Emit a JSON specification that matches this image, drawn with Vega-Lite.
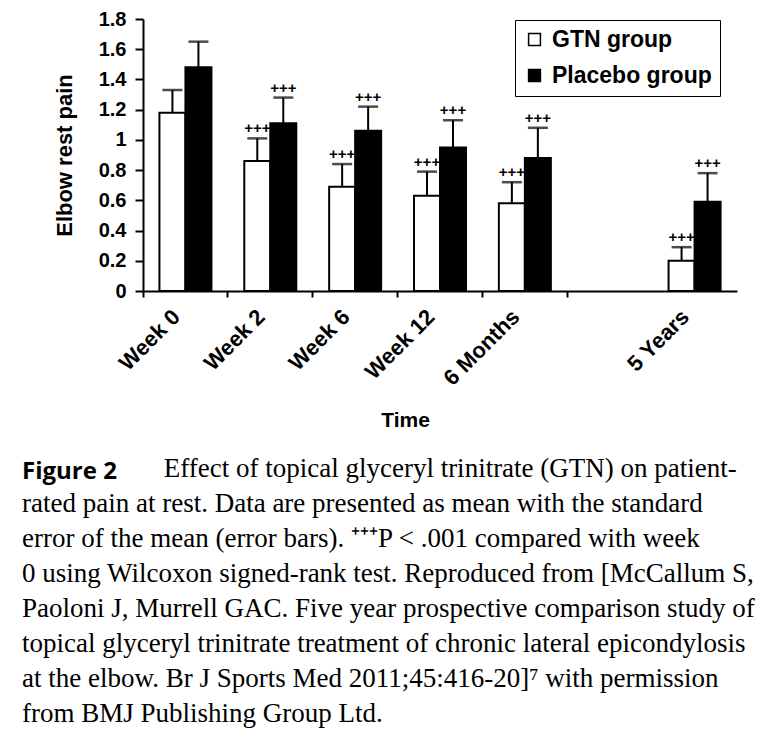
{
  "$schema": "https://vega.github.io/schema/vega-lite/v6.json",
  "width": 594,
  "height": 272,
  "autosize": {"type": "none"},
  "padding": {"left": 143, "top": 19, "right": 43, "bottom": 462},
  "background": "white",
  "title": {
    "text": "Figure 2",
    "subtitle": [
      "\u200b\u00a0\u00a0\u00a0\u00a0\u00a0\u00a0\u00a0\u00a0\u00a0\u00a0\u00a0\u00a0\u00a0\u00a0\u00a0\u00a0\u00a0\u00a0\u00a0\u00a0\u00a0Effect of topical glyceryl trinitrate (GTN) on patient-",
      "rated pain at rest. Data are presented as mean with the standard",
      "error of the mean (error bars). \u207a\u207a\u207aP < .001 compared with week",
      "0 using Wilcoxon signed-rank test. Reproduced from [McCallum S,",
      "Paoloni J, Murrell GAC. Five year prospective comparison study of",
      "topical glyceryl trinitrate treatment of chronic lateral epicondylosis",
      "at the elbow. Br J Sports Med 2011;45:416-20]\u2077 with permission",
      "from BMJ Publishing Group Ltd."
    ],
    "orient": "bottom",
    "anchor": "start",
    "frame": "group",
    "dx": -121,
    "offset": 30,
    "font": "Open Sans",
    "fontSize": 24,
    "fontWeight": "bold",
    "color": "black",
    "subtitleFont": "Liberation Serif",
    "subtitleFontSize": 27,
    "subtitleColor": "black",
    "subtitleLineHeight": 35,
    "subtitlePadding": -28
  },
  "data": {
    "values": [
      {"Time": "Week 0", "Group": "GTN group", "Mean": 1.18, "Upper": 1.33, "Sig": ""},
      {"Time": "Week 0", "Group": "Placebo group", "Mean": 1.48, "Upper": 1.65, "Sig": ""},
      {"Time": "Week 2", "Group": "GTN group", "Mean": 0.86, "Upper": 1.01, "Sig": "+++"},
      {"Time": "Week 2", "Group": "Placebo group", "Mean": 1.11, "Upper": 1.28, "Sig": "+++"},
      {"Time": "Week 6", "Group": "GTN group", "Mean": 0.69, "Upper": 0.84, "Sig": "+++"},
      {"Time": "Week 6", "Group": "Placebo group", "Mean": 1.06, "Upper": 1.22, "Sig": "+++"},
      {"Time": "Week 12", "Group": "GTN group", "Mean": 0.63, "Upper": 0.79, "Sig": "+++"},
      {"Time": "Week 12", "Group": "Placebo group", "Mean": 0.95, "Upper": 1.13, "Sig": "+++"},
      {"Time": "6 Months", "Group": "GTN group", "Mean": 0.58, "Upper": 0.72, "Sig": "+++"},
      {"Time": "6 Months", "Group": "Placebo group", "Mean": 0.88, "Upper": 1.08, "Sig": "+++"},
      {"Time": "5 Years", "Group": "GTN group", "Mean": 0.2, "Upper": 0.29, "Sig": "+++"},
      {"Time": "5 Years", "Group": "Placebo group", "Mean": 0.59, "Upper": 0.78, "Sig": "+++"}
    ]
  },
  "encoding": {
    "x": {
      "field": "Time",
      "type": "nominal",
      "sort": null,
      "scale": {
        "domain": ["Week 0", "Week 2", "Week 6", "Week 12", "6 Months", " ", "5 Years"],
        "paddingInner": 0,
        "paddingOuter": 0
      },
      "axis": {
        "title": "Time",
        "titleFont": "Liberation Sans",
        "titleFontSize": 21,
        "titleFontWeight": "bold",
        "titleColor": "black",
        "titleX": 262,
        "titleY": 118,
        "labelFont": "Liberation Sans",
        "labelFontSize": 22,
        "labelFontWeight": "bold",
        "labelColor": "black",
        "labelAngle": -45,
        "labelAlign": "right",
        "labelBaseline": "middle",
        "labelOffset": -9,
        "labelPadding": 16,
        "bandPosition": 0,
        "domainColor": "black",
        "domainWidth": 2,
        "tickColor": {"condition": {"test": "datum.value === '5 Years'", "value": "transparent"}, "value": "black"},
        "tickWidth": 2,
        "tickSize": 6,
        "grid": false
      }
    },
    "xOffset": {
      "field": "Group",
      "type": "nominal",
      "scale": {"paddingOuter": 0.632, "paddingInner": 0}
    },
    "y": {
      "field": "Mean",
      "type": "quantitative",
      "scale": {"domain": [0, 1.8], "nice": false},
      "axis": {
        "title": "Elbow rest pain",
        "titleFont": "Liberation Sans",
        "titleFontSize": 22,
        "titleFontWeight": "bold",
        "titleColor": "black",
        "titlePadding": 22,
        "values": [0, 0.2, 0.4, 0.6, 0.8, 1, 1.2, 1.4, 1.6, 1.8],
        "format": ".1~f",
        "labelFont": "Liberation Sans",
        "labelFontSize": 20,
        "labelFontWeight": "bold",
        "labelColor": "black",
        "labelPadding": 9,
        "domainColor": "black",
        "domainWidth": 2,
        "tickColor": "black",
        "tickWidth": 2,
        "tickSize": 8,
        "grid": false
      }
    }
  },
  "layer": [
    {
      "mark": {"type": "bar", "stroke": "black", "strokeWidth": 2},
      "encoding": {
        "fill": {
          "field": "Group",
          "type": "nominal",
          "scale": {"domain": ["GTN group", "Placebo group"], "range": ["white", "black"]},
          "legend": {
            "title": null,
            "orient": "none",
            "legendX": 372,
            "legendY": 1,
            "direction": "vertical",
            "padding": 8,
            "strokeColor": "black",
            "fillColor": "white",
            "symbolType": "square",
            "symbolSize": 140,
            "symbolStrokeColor": "black",
            "symbolStrokeWidth": 1.5,
            "labelFont": "Liberation Sans",
            "labelFontSize": 23,
            "labelFontWeight": "bold",
            "labelColor": "black",
            "labelOffset": 6,
            "rowPadding": 12,
            "labelLimit": 300
          }
        }
      }
    },
    {
      "mark": {"type": "rule", "color": "black", "strokeWidth": 2},
      "encoding": {"y2": {"field": "Upper"}}
    },
    {
      "mark": {"type": "tick", "orient": "horizontal", "color": "black", "thickness": 2.5, "size": 20},
      "encoding": {"y": {"field": "Upper", "type": "quantitative"}}
    },
    {
      "mark": {"type": "text", "font": "Liberation Sans", "fontSize": 15, "fontWeight": "bold", "color": "black", "baseline": "middle", "dy": -10},
      "encoding": {
        "y": {"field": "Upper", "type": "quantitative"},
        "text": {"field": "Sig"}
      }
    }
  ],
  "config": {"view": {"stroke": null}}
}
